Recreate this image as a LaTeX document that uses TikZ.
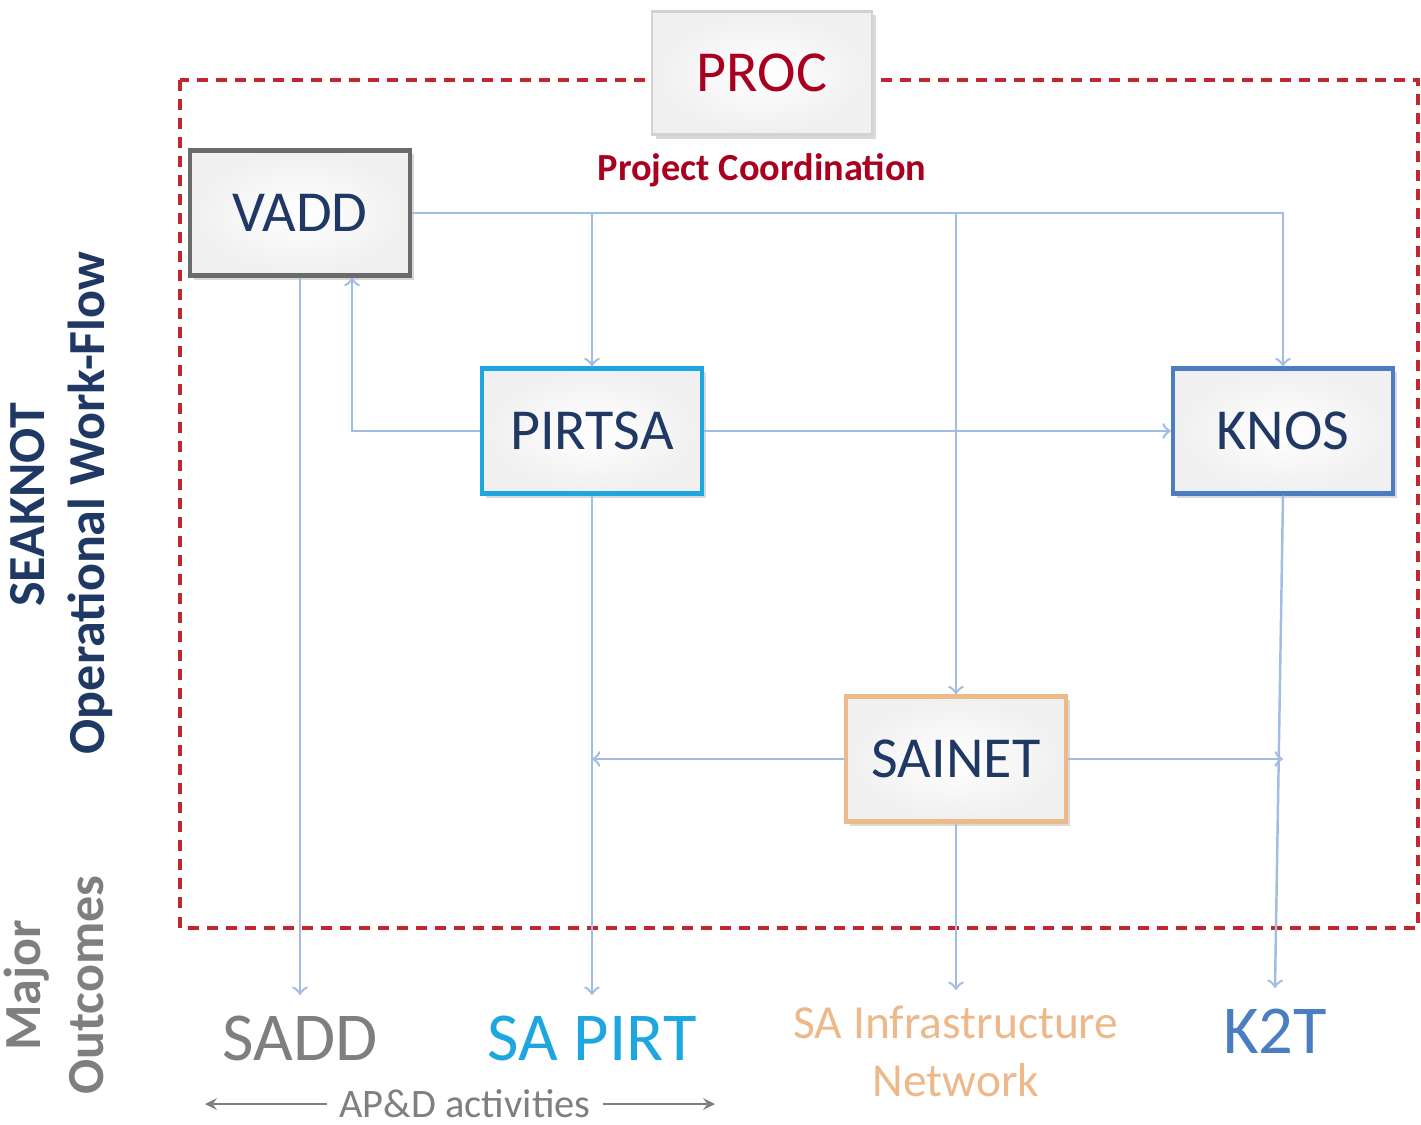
\documentclass[tikz,border=0pt]{standalone}
\usepackage{fontspec}
\setmainfont{Carlito}
\usetikzlibrary{shadows}
\definecolor{seared}{HTML}{C0282E}
\definecolor{procred}{HTML}{A8001E}
\definecolor{navy}{HTML}{1F3864}
\definecolor{flowblue}{HTML}{A2BDE3}
\definecolor{vaddgray}{HTML}{6B6B6B}
\definecolor{pirtcyan}{HTML}{1EA6E0}
\definecolor{knosblue}{HTML}{4A7EC0}
\definecolor{tan}{HTML}{EDB88A}
\definecolor{outgray}{HTML}{7F7F7F}

\begin{document}
\begin{tikzpicture}[x=0.01cm,y=-0.01cm,
    box/.style={draw,line width=1.2pt,minimum width=2.2cm,minimum height=1.25cm,
      inner color=white,outer color=gray!12,
      drop shadow={opacity=0.3,shadow xshift=0.04cm,shadow yshift=-0.04cm},
      font=\fontsize{16.5}{18}\selectfont,text=navy},
    flow/.style={draw=flowblue,line width=0.7pt},
    outcome/.style={anchor=north,inner sep=0.2cm,font=\fontsize{19.5}{22}\selectfont},
    side/.style={rotate=90,font=\bfseries\fontsize{14.8}{17}\selectfont}]
  \useasboundingbox (0,0) rectangle (1421,1124);
  \draw [seared,line width=1.1pt,dash pattern=on 0.11cm off 0.08cm] (180,80) rectangle (1418,928);

  \node [side,text=navy] (seaknot) at (28,505) {SEAKNOT};
  \node [side,text=navy] (workflow) at (90,503) {Operational Work-Flow};
  \node [side,text=outgray] (major) at (27,985) {Major};
  \node [side,text=outgray] (outcomes) at (87,985) {Outcomes};

  \node [box,draw=gray!35,line width=0.6pt,text=procred,minimum height=1.23cm] (proc) at (762,73) {PROC};
  \node [font=\bfseries\fontsize{10.9}{13}\selectfont,text=procred] (projco) at (762,170) {Project Coordination};

  \node [box,draw=vaddgray] (vadd) at (300,213) {VADD};
  \node [box,draw=pirtcyan] (pirtsa) at (592,431) {PIRTSA};
  \node [box,draw=knosblue] (knos) at (1283,431) {KNOS};
  \node [box,draw=tan] (sainet) at (956,759) {SAINET};

  \node [outcome,text=outgray] (sadd) at (300,995) {SADD};
  \node [outcome,text=pirtcyan] (sapirt) at (592,995) {SA PIRT};
  \node [outcome,text=tan,align=center,inner sep=0.15cm,font=\fontsize{13.5}{16.5}\selectfont] (sainf) at (956,990) {SA Infrastructure\\Network};
  \node [outcome,text=knosblue] (ktt) at (1275,988) {K2T};

  \node [text=outgray,font=\fontsize{11.5}{13}\selectfont] (apd) at (465,1104) {AP\&D activities};
  \coordinate (apdl) at (205,1104);
  \coordinate (apdr) at (715,1104);
  \draw [outgray,line width=0.5pt,-stealth] (apd.west) -- (apdl);
  \draw [outgray,line width=0.5pt,-stealth] (apd.east) -- (apdr);

  \draw [flow,->] (vadd.east) -| (knos.north);
  \draw [flow,->] (vadd.east -| pirtsa.north) -- (pirtsa.north);
  \draw [flow,->] (vadd.east -| sainet.north) -- (sainet.north);
  \draw [flow,->] (pirtsa.west) -| ([xshift=0.52cm]vadd.south);
  \draw [flow,->] (pirtsa.east) -- (knos.west);
  \draw [flow,->] (sainet.west) -- (sainet.west -| pirtsa.south);
  \draw [flow,->] (sainet.east) -- (sainet.east -| knos.south);
  \draw [flow,->] (vadd.south) -- (sadd.north);
  \draw [flow,->] (pirtsa.south) -- (sapirt.north);
  \draw [flow,->] (sainet.south) -- (sainf.north);
  \draw [flow,->] (knos.south) -- (ktt.north);
\end{tikzpicture}
\end{document}
